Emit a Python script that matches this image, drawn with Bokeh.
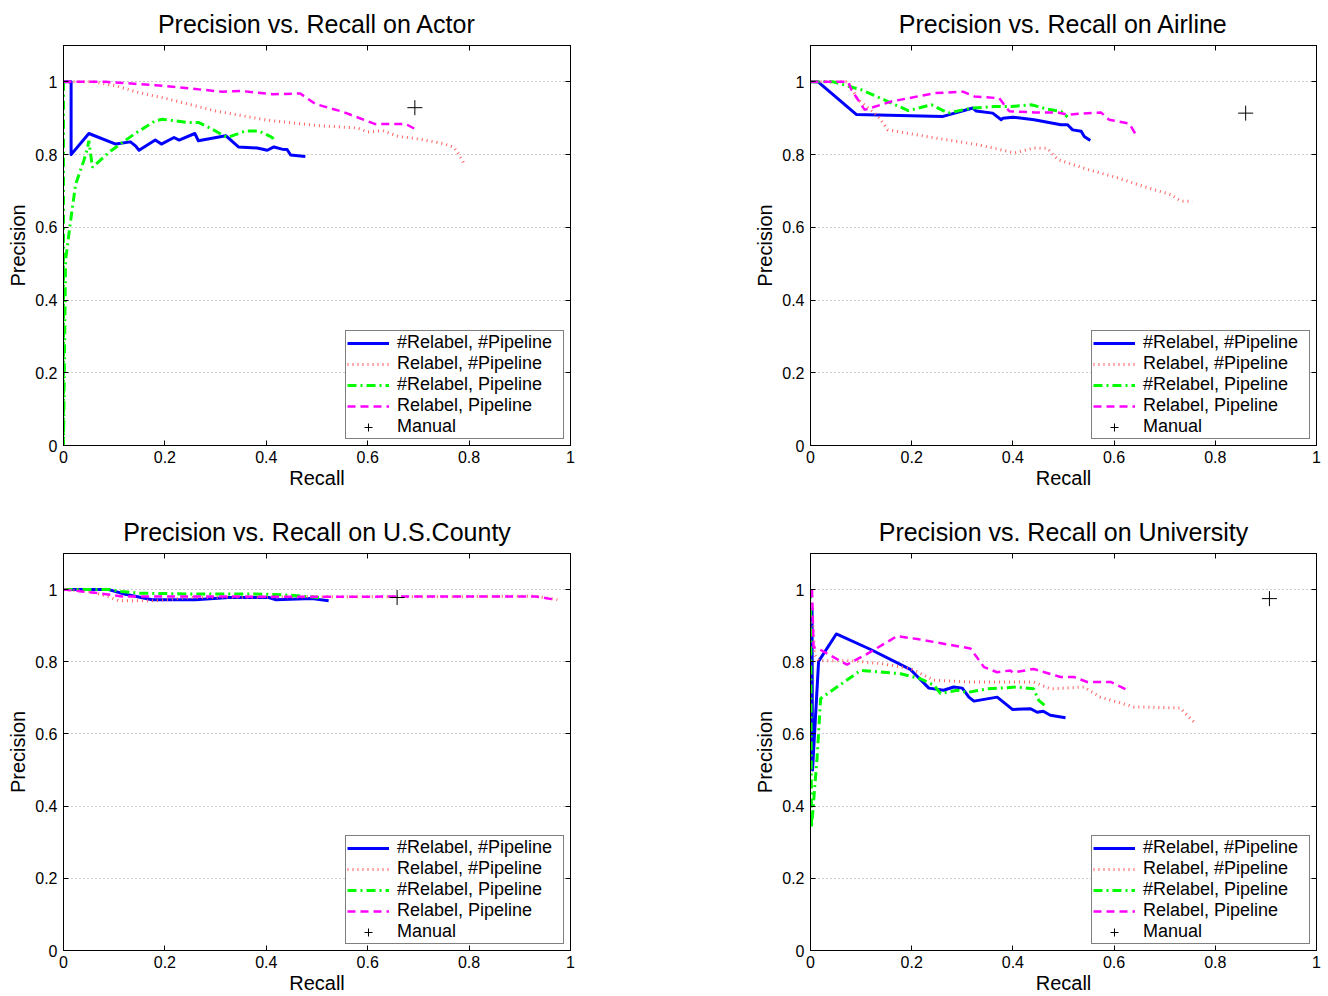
from bokeh.plotting import figure
from bokeh.layouts import gridplot
from bokeh.models import Range1d, FixedTicker, CustomJSTickFormatter, LinearAxis, Legend, LegendItem
from bokeh.embed import file_html
from bokeh.resources import INLINE

FONT = "Liberation Sans"
TICKS = [0, 0.2, 0.4, 0.6, 0.8, 1.0]
SERIES_NAMES = ["#Relabel, #Pipeline", "Relabel, #Pipeline", "#Relabel, Pipeline", "Relabel, Pipeline", "Manual"]

# ---------------- Actor ----------------
actor_nn_x = [0, 0.015, 0.015, 0.05, 0.103, 0.132, 0.142, 0.149, 0.181, 0.193, 0.218, 0.228, 0.259, 0.266, 0.320, 0.345, 0.382, 0.402, 0.415, 0.431, 0.441, 0.448, 0.477]
actor_nn_y = [1.0, 1.0, 0.80, 0.858, 0.829, 0.835, 0.824, 0.812, 0.840, 0.829, 0.847, 0.840, 0.858, 0.838, 0.852, 0.821, 0.818, 0.812, 0.821, 0.815, 0.814, 0.799, 0.795]
actor_rn_x = [0, 0.06, 0.1, 0.15, 0.2, 0.3, 0.4, 0.5, 0.58, 0.6, 0.63, 0.66, 0.7, 0.75, 0.77, 0.78, 0.79]
actor_rn_y = [1, 1, 0.99, 0.97, 0.955, 0.92, 0.895, 0.88, 0.873, 0.862, 0.866, 0.85, 0.843, 0.83, 0.82, 0.80, 0.775]
actor_np_x = [0, 0, 0.004, 0.014, 0.024, 0.04, 0.047, 0.05, 0.057, 0.093, 0.139, 0.181, 0.195, 0.247, 0.267, 0.293, 0.323, 0.359, 0.385, 0.412, 0.415]
actor_np_y = [1, 0, 0.508, 0.618, 0.719, 0.783, 0.816, 0.838, 0.765, 0.81, 0.856, 0.893, 0.897, 0.888, 0.888, 0.870, 0.847, 0.865, 0.865, 0.847, 0.835]
actor_rp_x = [0, 0.083, 0.181, 0.313, 0.35, 0.412, 0.467, 0.497, 0.550, 0.615, 0.675, 0.694]
actor_rp_y = [1, 1, 0.991, 0.973, 0.975, 0.966, 0.968, 0.939, 0.918, 0.884, 0.884, 0.870]
actor_manual_x = [0.693]
actor_manual_y = [0.929]

# ---------------- Airline ----------------
airline_nn_x = [0, 0.015, 0.091, 0.262, 0.321, 0.327, 0.360, 0.377, 0.38, 0.40, 0.442, 0.495, 0.508, 0.518, 0.535, 0.541, 0.553]
airline_nn_y = [1, 1, 0.910, 0.905, 0.928, 0.92, 0.914, 0.896, 0.90, 0.903, 0.896, 0.882, 0.882, 0.868, 0.864, 0.850, 0.839]
airline_rn_x = [0, 0.074, 0.094, 0.134, 0.153, 0.245, 0.331, 0.403, 0.442, 0.468, 0.489, 0.548, 0.607, 0.666, 0.712, 0.732, 0.755]
airline_rn_y = [1, 1, 0.951, 0.905, 0.868, 0.846, 0.827, 0.805, 0.818, 0.817, 0.786, 0.759, 0.736, 0.709, 0.690, 0.672, 0.672]
airline_np_x = [0, 0.045, 0.101, 0.153, 0.193, 0.239, 0.272, 0.318, 0.364, 0.396, 0.436, 0.469, 0.495, 0.508]
airline_np_y = [1, 1, 0.978, 0.946, 0.921, 0.937, 0.914, 0.928, 0.932, 0.932, 0.937, 0.925, 0.919, 0.903]
airline_rp_x = [0, 0.074, 0.081, 0.107, 0.160, 0.245, 0.301, 0.324, 0.373, 0.393, 0.442, 0.488, 0.508, 0.574, 0.590, 0.630, 0.643]
airline_rp_y = [1, 1, 0.978, 0.923, 0.946, 0.969, 0.973, 0.960, 0.955, 0.919, 0.916, 0.916, 0.910, 0.916, 0.896, 0.885, 0.855]
airline_manual_x = [0.860]
airline_manual_y = [0.914]

# ---------------- U.S.County ----------------
county_nn_x = [0, 0.089, 0.122, 0.175, 0.260, 0.326, 0.405, 0.418, 0.490, 0.523]
county_nn_y = [1, 1, 0.987, 0.972, 0.972, 0.978, 0.978, 0.972, 0.975, 0.969]
county_rn_x = [0, 0.05, 0.083, 0.109, 0.18, 0.25, 0.5, 0.75, 0.93, 0.974]
county_rn_y = [1, 0.995, 0.983, 0.969, 0.969, 0.978, 0.980, 0.980, 0.982, 0.972]
county_np_x = [0, 0.089, 0.115, 0.149, 0.247, 0.378, 0.444, 0.504]
county_np_y = [1, 1, 0.995, 0.990, 0.988, 0.988, 0.985, 0.978]
county_rp_x = [0, 0.036, 0.075, 0.116, 0.247, 0.5, 0.75, 0.931, 0.957, 0.97]
county_rp_y = [1, 0.995, 0.989, 0.981, 0.981, 0.980, 0.981, 0.981, 0.975, 0.972]
county_manual_x = [0.658]
county_manual_y = [0.978]

# ---------------- University ----------------
univ_nn_x = [0.003, 0.004, 0.016, 0.051, 0.119, 0.198, 0.234, 0.263, 0.283, 0.300, 0.313, 0.323, 0.369, 0.399, 0.435, 0.448, 0.46, 0.474, 0.504]
univ_nn_y = [0.95, 0.50, 0.801, 0.877, 0.834, 0.778, 0.727, 0.721, 0.730, 0.727, 0.702, 0.691, 0.702, 0.668, 0.670, 0.66, 0.663, 0.652, 0.645]
univ_rn_x = [0.005, 0.008, 0.016, 0.08, 0.145, 0.198, 0.244, 0.310, 0.441, 0.474, 0.540, 0.573, 0.639, 0.731, 0.744, 0.761]
univ_rn_y = [0.9, 0.82, 0.803, 0.803, 0.794, 0.781, 0.749, 0.744, 0.744, 0.725, 0.730, 0.702, 0.675, 0.672, 0.652, 0.629]
univ_np_x = [0, 0.002, 0.013, 0.020, 0.099, 0.178, 0.217, 0.244, 0.257, 0.290, 0.31, 0.349, 0.408, 0.441, 0.451, 0.464]
univ_np_y = [1.0, 0.34, 0.533, 0.698, 0.776, 0.767, 0.753, 0.735, 0.712, 0.721, 0.715, 0.725, 0.730, 0.725, 0.693, 0.678]
univ_rp_x = [0.003, 0.006, 0.016, 0.072, 0.112, 0.171, 0.211, 0.316, 0.343, 0.369, 0.395, 0.4, 0.441, 0.494, 0.52, 0.547, 0.593, 0.623]
univ_rp_y = [1.0, 0.84, 0.836, 0.792, 0.822, 0.871, 0.863, 0.837, 0.785, 0.771, 0.776, 0.77, 0.780, 0.758, 0.758, 0.744, 0.744, 0.724]
univ_manual_x = [0.907]
univ_manual_y = [0.975]

FMT = "return (Math.round(tick*10)/10).toString();"


def make_fig(title, w, h, bl, br, bt, bb, nn, rn, np_, rp, man):
    p = figure(width=w, height=h, output_backend="svg", toolbar_location=None,
               x_range=Range1d(0, 1), y_range=Range1d(0, 1.1),
               min_border_left=bl, min_border_right=br, min_border_top=bt, min_border_bottom=bb,
               title=title)
    p.background_fill_color = "white"
    p.border_fill_color = "white"
    p.outline_line_color = "black"
    p.outline_line_width = 1
    p.title.text_font = FONT
    p.title.text_font_size = "25px"
    p.title.text_font_style = "normal"
    p.title.align = "center"
    p.title.text_color = "black"
    p.title.standoff = 15

    for ax, lab in ((p.xaxis[0], "Recall"), (p.yaxis[0], "Precision")):
        ax.ticker = FixedTicker(ticks=TICKS)
        ax.formatter = CustomJSTickFormatter(code=FMT)
        ax.axis_label = lab
        ax.axis_label_text_font = FONT
        ax.axis_label_text_font_size = "20px"
        ax.axis_label_text_font_style = "normal"
        ax.axis_label_text_color = "black"
        ax.major_label_text_font = FONT
        ax.major_label_text_font_size = "16px"
        ax.major_label_text_color = "black"
        ax.major_tick_in = 5
        ax.major_tick_out = 0
        ax.minor_tick_line_color = None
        ax.axis_line_color = "black"
        ax.major_tick_line_color = "black"
    p.xaxis[0].major_label_standoff = 5
    p.xaxis[0].axis_label_standoff = 1
    p.yaxis[0].major_label_standoff = 6
    p.yaxis[0].axis_label_standoff = 3

    for side in ("above", "right"):
        a = LinearAxis(ticker=FixedTicker(ticks=TICKS), major_tick_in=5, major_tick_out=0,
                       minor_tick_line_color=None, major_label_text_font_size="0px",
                       major_label_standoff=0, axis_line_color="black",
                       formatter=CustomJSTickFormatter(code="return '';"))
        p.add_layout(a, side)

    p.xgrid.visible = False
    p.ygrid.ticker = FixedTicker(ticks=TICKS)
    p.ygrid.grid_line_color = "#9a9a9a"
    p.ygrid.grid_line_dash = "1 3"
    p.ygrid.grid_line_width = 1

    r1 = p.line(nn[0], nn[1], line_color="#0000ff", line_width=3, line_join="round")
    r2 = p.line(rn[0], rn[1], line_color="#ff6060", line_width=3, line_dash="1 4")
    r3 = p.line(np_[0], np_[1], line_color="#00ff00", line_width=3, line_dash="9 4 2 4")
    r4 = p.line(rp[0], rp[1], line_color="#ff00ff", line_width=2.5, line_dash="8 5")
    r5 = p.scatter(man[0], man[1], marker="cross", size=15, line_color="black", line_width=1)

    legend = Legend(items=[LegendItem(label=n, renderers=[r]) for n, r in zip(SERIES_NAMES, [r1, r2, r3, r4, r5])],
                    location="bottom_right", margin=6, padding=1, spacing=0,
                    glyph_width=42, glyph_height=20, label_height=20, label_standoff=8,
                    label_width=165,
                    label_text_font=FONT, label_text_font_size="18px", label_text_color="black",
                    border_line_color="black", border_line_width=1,
                    background_fill_color="white", background_fill_alpha=1)
    p.add_layout(legend)
    return p


p1 = make_fig("Precision vs. Recall on Actor", 664, 508, 63, 94, 45, 63,
              (actor_nn_x, actor_nn_y), (actor_rn_x, actor_rn_y), (actor_np_x, actor_np_y),
              (actor_rp_x, actor_rp_y), (actor_manual_x, actor_manual_y))
p2 = make_fig("Precision vs. Recall on Airline", 660, 508, 145, 8, 45, 63,
              (airline_nn_x, airline_nn_y), (airline_rn_x, airline_rn_y), (airline_np_x, airline_np_y),
              (airline_rp_x, airline_rp_y), (airline_manual_x, airline_manual_y))
p3 = make_fig("Precision vs. Recall on U.S.County", 664, 488, 63, 94, 43, 46,
              (county_nn_x, county_nn_y), (county_rn_x, county_rn_y), (county_np_x, county_np_y),
              (county_rp_x, county_rp_y), (county_manual_x, county_manual_y))
p4 = make_fig("Precision vs. Recall on University", 660, 488, 146, 8, 43, 46,
              (univ_nn_x, univ_nn_y), (univ_rn_x, univ_rn_y), (univ_np_x, univ_np_y),
              (univ_rp_x, univ_rp_y), (univ_manual_x, univ_manual_y))

grid = gridplot([[p1, p2], [p3, p4]], toolbar_location=None)

open("out.html", "w").write(file_html(grid, INLINE))
